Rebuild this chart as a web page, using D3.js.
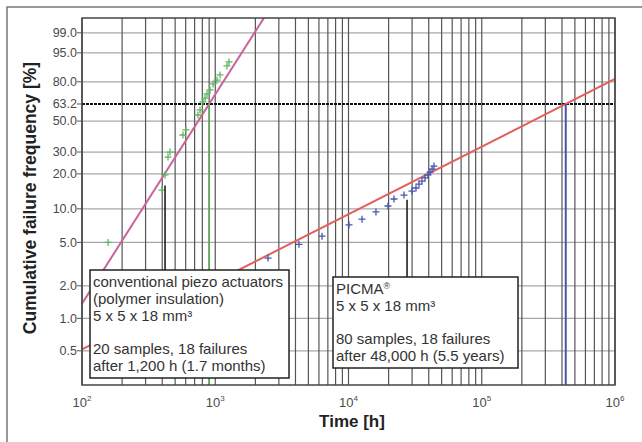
<!DOCTYPE html>
<html>
<head>
<meta charset="utf-8">
<script src="https://cdn.jsdelivr.net/npm/d3@7"></script>
<style>
  body { margin: 0; background: #fff; }
  svg { display: block; font-family: "Liberation Sans", Arial, sans-serif; }
</style>
</head>
<body>
<div id="chart"></div>
<script>
// y ticks in percent (weibull paper)
const yTicks = [0.5, 1.0, 2.0, 5.0, 10.0, 20.0, 30.0, 50.0, 63.2, 80.0, 95.0, 99.0];
const xDecades = [1e2, 1e3, 1e4, 1e5, 1e6];

// conventional piezo actuators, 18 failures
const convTime = [157, 398, 420, 442, 458, 572, 603, 742, 769, 809, 838, 867, 913, 962, 1031, 1086, 1225, 1268];
const convFreq = [5.0, 14.6, 19.6, 27.4, 30.0, 40.2, 43.6, 54.6, 58.5, 64.8, 67.9, 71.1, 74.1, 78.5, 81.2, 84.5, 89.6, 91.5];

// PICMA, 18 failures
const picmaTime = [2490, 4250, 6330, 10090, 12630, 16070, 19780, 21940, 26100, 29950, 32100, 33800, 35600, 37500, 39500, 40900, 42400, 43800];
const picmaFreq = [3.6, 4.8, 5.7, 7.2, 8.1, 9.4, 10.6, 12.2, 13.2, 14.3, 15.2, 16.4, 17.4, 18.5, 19.6, 20.7, 21.9, 23.2];

// fitted weibull lines: characteristic life (h) and slope
const fitEta = [900, 427000];
const fitBeta = [1.95, 0.63];
const fitColor = ['#c8649a', '#e2605a'];
const etaColor = ['#55b055', '#4a52a8'];

// leader anchors [time, percent]
const leaderTop = [[420, 16], [27500, 12]];

const W = 642, H = 442;
const plot = { left: 82, right: 615, top: 18, bottom: 385 };

const svg = d3.select('#chart').append('svg')
    .attr('width', W).attr('height', H);

const wb = f => Math.log(-Math.log(1 - f / 100));

const x = d3.scaleLog().domain([1e2, 1e6]).range([plot.left, plot.right]);
const yW = d3.scaleLinear().domain([-6.03, 1.845]).range([plot.bottom, plot.top]);
const y = f => yW(wb(f));

// outer frame (only top/left visible)
svg.append('path')
    .attr('d', `M7,${H} L7,7 L${W},7`)
    .attr('fill', 'none').attr('stroke', '#777').attr('stroke-width', 1.5);

svg.append('defs').append('clipPath').attr('id', 'plotclip')
    .append('rect')
    .attr('x', plot.left).attr('y', plot.top)
    .attr('width', plot.right - plot.left).attr('height', plot.bottom - plot.top);

const g = svg.append('g');

// horizontal grid
g.selectAll('.hgrid')
    .data(yTicks.filter(d => d !== 63.2))
    .enter().append('line')
    .attr('class', 'hgrid')
    .attr('x1', plot.left).attr('x2', plot.right)
    .attr('y1', d => y(d)).attr('y2', d => y(d))
    .attr('stroke', '#a8a8a8').attr('stroke-width', 1.2);

// vertical grid at every log tick
g.selectAll('.vgrid')
    .data(x.ticks())
    .enter().append('line')
    .attr('class', 'vgrid')
    .attr('x1', d => x(d)).attr('x2', d => x(d))
    .attr('y1', plot.top).attr('y2', plot.bottom)
    .attr('stroke', '#555').attr('stroke-width', 1.2);

// 63.2% line
g.append('line')
    .attr('x1', plot.left).attr('x2', plot.right)
    .attr('y1', y(63.2)).attr('y2', y(63.2))
    .attr('stroke', '#111').attr('stroke-width', 2)
    .attr('stroke-dasharray', '3,1');

// fitted lines
const fits = g.append('g').attr('clip-path', 'url(#plotclip)');
fitEta.forEach((eta, i) => {
    const b = fitBeta[i];
    const pts = x.domain().map(t => [x(t), yW(b * (Math.log(t) - Math.log(eta)))]);
    fits.append('path')
        .attr('d', d3.line()(pts))
        .attr('fill', 'none')
        .attr('stroke', fitColor[i])
        .attr('stroke-width', 2);
    // characteristic life marker
    fits.append('line')
        .attr('x1', x(eta)).attr('x2', x(eta))
        .attr('y1', yW(0)).attr('y2', plot.bottom)
        .attr('stroke', etaColor[i]).attr('stroke-width', i ? 2 : 1.5);
});

// data points as "+"
function plus(sel, times, freqs, color) {
    const data = times.map((t, i) => [x(t), y(freqs[i])]);
    sel.selectAll(null)
        .data(data)
        .enter().append('path')
        .attr('d', d => `M${d[0] - 3.5},${d[1]} h7 M${d[0]},${d[1] - 3.5} v7`)
        .attr('stroke', color).attr('stroke-width', 1.3).attr('fill', 'none');
}
plus(g.append('g'), convTime, convFreq, '#5cb85c');
plus(g.append('g'), picmaTime, picmaFreq, '#4a56b0');

// plot border
g.append('rect')
    .attr('x', plot.left).attr('y', plot.top)
    .attr('width', plot.right - plot.left).attr('height', plot.bottom - plot.top)
    .attr('fill', 'none').attr('stroke', '#444').attr('stroke-width', 1.5);

// y axis ticks + labels
const yAx = svg.append('g');
yAx.selectAll('line')
    .data(yTicks)
    .enter().append('line')
    .attr('x1', plot.left - 5).attr('x2', plot.left)
    .attr('y1', d => y(d)).attr('y2', d => y(d))
    .attr('stroke', '#555');
yAx.selectAll('text')
    .data(yTicks)
    .enter().append('text')
    .attr('x', plot.left - 5).attr('y', d => y(d))
    .attr('dy', '0.35em')
    .attr('text-anchor', 'end')
    .style('font-size', '12.5px')
    .attr('fill', '#4a4a4a')
    .text(d => d.toFixed(1));

// x axis labels 10^n
const xAx = svg.append('g');
xDecades.forEach(d => {
    const t = xAx.append('text')
        .attr('x', x(d)).attr('y', 407)
        .attr('text-anchor', 'middle')
        .style('font-size', '13px')
        .attr('fill', '#4a4a4a');
    t.append('tspan').text('10');
    t.append('tspan').attr('dy', -6).style('font-size', '8px').text(Math.round(Math.log10(d)));
});

// axis titles
svg.append('text')
    .attr('x', 352).attr('y', 427)
    .attr('text-anchor', 'middle')
    .style('font-size', '17px').style('font-weight', 'bold')
    .attr('fill', '#222')
    .text('Time [h]');

svg.append('text')
    .attr('transform', 'translate(36,198) rotate(-90)')
    .attr('text-anchor', 'middle')
    .style('font-size', '17.5px').style('font-weight', 'bold')
    .attr('fill', '#222')
    .text('Cumulative failure frequency [%]');

// annotation boxes
const boxes = [
    { x: 90, y: 270, w: 199, h: 108,
      lines: ['conventional piezo actuators', '(polymer insulation)', '5 x 5 x 18 mm\u00b3', '', '20 samples, 18 failures', 'after 1,200 h (1.7 months)'] },
    { x: 333, y: 277, w: 185, h: 91,
      lines: ['PICMA|\u00ae', '5 x 5 x 18 mm\u00b3', '', '80 samples, 18 failures', 'after 48,000 h (5.5 years)'] }
];

boxes.forEach((b, i) => {
    const lt = leaderTop[i];
    svg.append('line')
        .attr('x1', x(lt[0])).attr('x2', x(lt[0]))
        .attr('y1', y(lt[1])).attr('y2', b.y)
        .attr('stroke', '#111').attr('stroke-width', 1.5);

    svg.append('rect')
        .attr('x', b.x).attr('y', b.y).attr('width', b.w).attr('height', b.h)
        .attr('fill', '#fff').attr('stroke', '#222').attr('stroke-width', 1.5);

    const txt = svg.append('g');
    b.lines.forEach((l, j) => {
        const t = txt.append('text')
            .attr('x', b.x + 3).attr('y', b.y + 17 + j * 16.8)
            .style('font-size', '15px')
            .attr('fill', '#333');
        // "|" splits off a superscript part (registered mark)
        const parts = l.split('|');
        t.append('tspan').text(parts[0]);
        if (parts[1]) {
            t.append('tspan').attr('dy', -5).style('font-size', '9px').text(parts[1]);
        }
    });
});
</script>
</body>
</html>
